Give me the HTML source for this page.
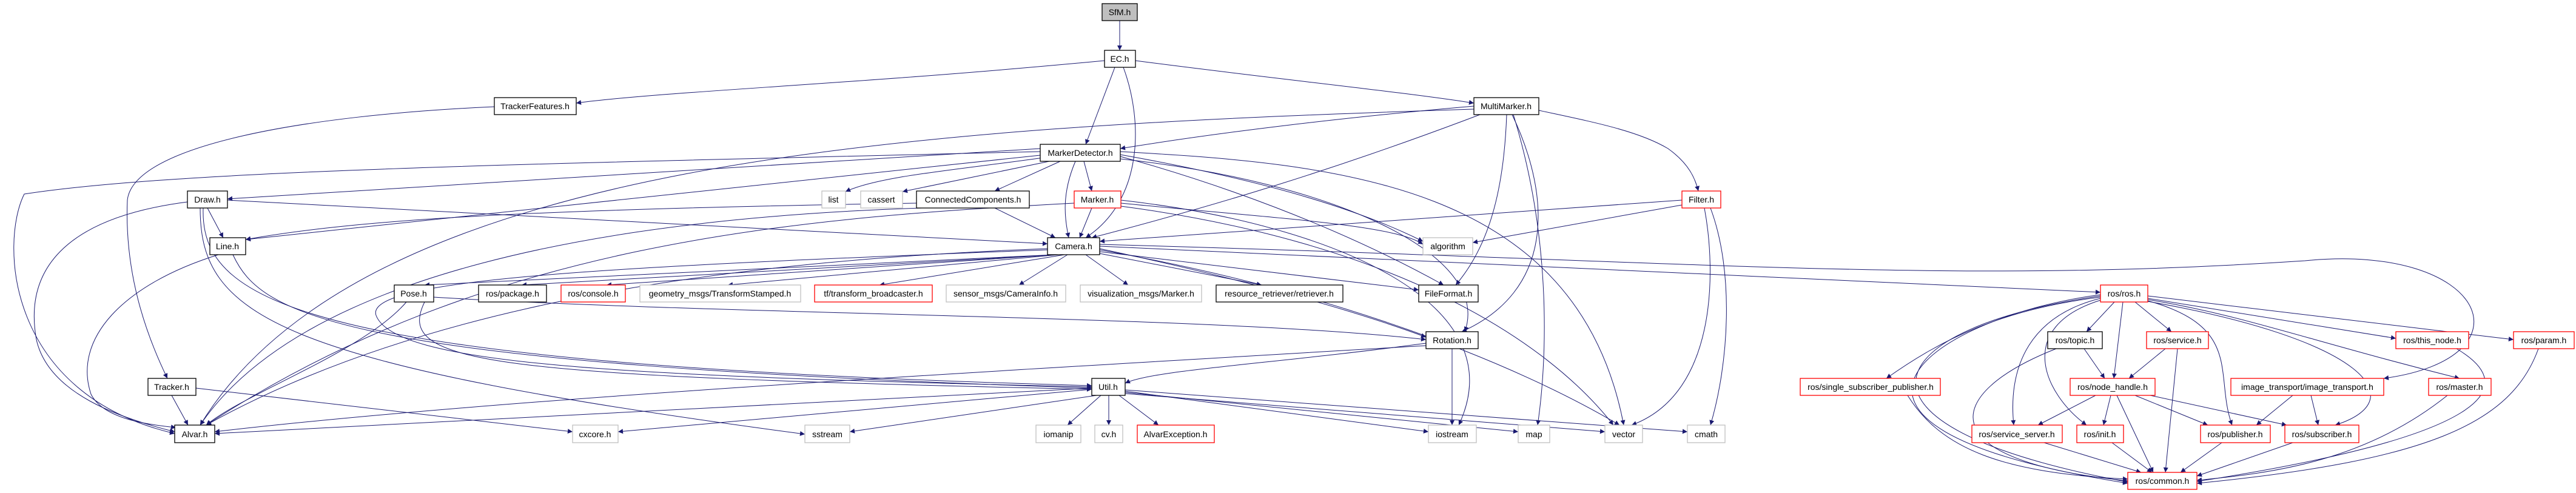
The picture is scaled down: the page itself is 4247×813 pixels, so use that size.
<!DOCTYPE html>
<html><head><meta charset="utf-8"><style>
html,body{margin:0;padding:0;background:#fff;}
svg{display:block;}
text{font-family:"Liberation Sans",sans-serif;font-size:14px;text-anchor:middle;fill:#000;}
.n{fill:#fff;stroke:#000;stroke-width:1.3;}
.r{fill:#fff;stroke:#ff0000;stroke-width:1.3;}
.g{fill:#fff;stroke:#bfbfbf;stroke-width:1.3;}
.e path{fill:none;stroke:#191970;stroke-width:1;marker-end:url(#a);}
</style></head><body>
<svg width="4247" height="813" viewBox="0 0 4247 813" xmlns="http://www.w3.org/2000/svg">
<defs><marker id="a" viewBox="0 0 10 10" refX="10" refY="5" markerWidth="10" markerHeight="8" markerUnits="userSpaceOnUse" orient="auto"><path d="M0,0 L10,5 L0,10 z" fill="#191970"/></marker></defs>
<g class="e">
<path d="M1846,34 L1846,83"/>
<path d="M1821,100 C1400,140 1100,150 950,170"/>
<path d="M1872,100 C2100,130 2300,150 2430,170"/>
<path d="M1838,111 L1790,238"/>
<path d="M1852,111 C1885,200 1885,330 1790,392"/>
<path d="M815,176 C500,190 220,240 210,330 C205,450 240,550 276,624"/>
<path d="M2430,175 C2200,195 2000,220 1847,245"/>
<path d="M2537,182 C2620,200 2700,215 2750,245 C2785,270 2795,295 2800,315"/>
<path d="M2440,189 C2200,280 2000,340 1800,392"/>
<path d="M2484,189 C2480,300 2460,400 2400,470"/>
<path d="M2493,189 C2560,330 2560,480 2410,547"/>
<path d="M2430,180 C1500,210 600,260 330,701"/>
<path d="M2495,189 C2560,400 2550,600 2535,701"/>
<path d="M1715,245 L375,328"/>
<path d="M1720,260 C1580,280 1450,290 1394,316"/>
<path d="M1730,266 L1488,316"/>
<path d="M1748,266 L1640,315"/>
<path d="M1787,266 L1800,315"/>
<path d="M1773,266 C1750,320 1755,360 1762,392"/>
<path d="M1715,256 L405,395"/>
<path d="M1715,250 C900,270 300,280 40,320 C0,400 10,650 288,715"/>
<path d="M1847,255 C2100,300 2250,350 2346,398"/>
<path d="M1847,250 C2200,270 2600,300 2677,701"/>
<path d="M1847,262 C2200,300 2460,420 2415,547"/>
<path d="M1847,258 C2000,300 2200,370 2380,470"/>
<path d="M342,343 L368,392"/>
<path d="M309,333 C100,360 40,450 60,560 C80,650 200,690 288,712"/>
<path d="M375,330 L1727,402"/>
<path d="M335,343 C330,500 500,600 1800,636"/>
<path d="M330,343 C330,520 450,600 1327,716"/>
<path d="M360,420 C200,470 120,560 150,650 C170,690 240,700 290,705"/>
<path d="M384,420 C430,520 560,600 1800,640"/>
<path d="M1640,343 L1740,392"/>
<path d="M1511,335 C900,345 600,360 405,395"/>
<path d="M1520,343 C1000,360 500,450 330,701"/>
<path d="M1800,343 L1780,392"/>
<path d="M1771,335 C1300,360 800,400 340,701"/>
<path d="M1848,335 C2100,360 2300,370 2346,403"/>
<path d="M1848,340 C2300,400 2550,560 2660,701"/>
<path d="M1848,330 C2200,370 2500,500 2405,701"/>
<path d="M2773,330 L1813,398"/>
<path d="M2773,338 L2428,400"/>
<path d="M2810,343 C2830,450 2830,650 2690,701"/>
<path d="M2820,343 C2860,450 2850,600 2820,701"/>
<path d="M1740,420 L700,470"/>
<path d="M1745,420 L860,470"/>
<path d="M1740,420 L1000,470"/>
<path d="M1745,420 L1200,470"/>
<path d="M1755,420 L1450,470"/>
<path d="M1760,420 L1680,470"/>
<path d="M1790,420 L1860,470"/>
<path d="M1813,418 L2080,470"/>
<path d="M1813,415 L2339,478"/>
<path d="M1813,406 L3463,482"/>
<path d="M1813,403 C2800,430 3200,470 3800,430 C4100,400 4180,590 3930,624"/>
<path d="M1727,410 C1200,430 700,500 340,701"/>
<path d="M1727,412 C1000,440 600,460 620,520 C650,600 1000,620 1800,638"/>
<path d="M1813,410 C2000,450 2200,500 2351,556"/>
<path d="M1813,412 C2200,480 2500,600 2670,701"/>
<path d="M670,498 C600,580 400,650 340,701"/>
<path d="M715,490 C1200,520 2000,520 2351,560"/>
<path d="M700,498 C650,600 800,620 1800,642"/>
<path d="M2394,575 L2394,701"/>
<path d="M2351,566 C2100,600 1900,610 1855,632"/>
<path d="M2351,570 C1500,620 800,660 354,712"/>
<path d="M283,652 L310,701"/>
<path d="M323,640 L944,712"/>
<path d="M1800,640 L354,715"/>
<path d="M1800,642 L1019,712"/>
<path d="M1808,652 L1401,712"/>
<path d="M1815,652 L1760,701"/>
<path d="M1828,652 L1828,701"/>
<path d="M1845,652 L1910,701"/>
<path d="M1855,645 L2355,712"/>
<path d="M1855,647 L2503,712"/>
<path d="M1855,649 L2646,712"/>
<path d="M1855,643 L2782,712"/>
<path d="M3486,498 L3440,547"/>
<path d="M3520,498 L3580,547"/>
<path d="M3500,498 L3485,624"/>
<path d="M3541,492 L3950,558"/>
<path d="M3541,488 L4144,560"/>
<path d="M3541,494 C3700,520 3800,560 4055,624"/>
<path d="M3463,490 C3300,510 3200,560 3110,624"/>
<path d="M3463,492 C3350,520 3310,600 3320,701"/>
<path d="M3463,495 C3320,540 3370,650 3440,701"/>
<path d="M3541,496 C3700,540 3650,620 3680,701"/>
<path d="M3541,497 C3900,560 3980,660 3850,701"/>
<path d="M3463,488 C3100,540 3000,700 3508,795"/>
<path d="M3463,486 C3200,520 2900,700 3508,797"/>
<path d="M3436,575 L3470,624"/>
<path d="M3390,575 C3200,650 3180,760 3508,793"/>
<path d="M3570,575 L3510,624"/>
<path d="M3590,575 L3570,779"/>
<path d="M3455,652 L3360,701"/>
<path d="M3480,652 L3468,701"/>
<path d="M3490,652 L3550,779"/>
<path d="M3520,652 L3640,701"/>
<path d="M3545,652 L3770,701"/>
<path d="M3780,652 L3720,701"/>
<path d="M3810,652 L3822,701"/>
<path d="M3370,730 L3530,779"/>
<path d="M3482,730 L3548,779"/>
<path d="M3663,730 L3595,779"/>
<path d="M3780,730 L3622,785"/>
<path d="M4035,652 C3900,760 3750,780 3622,792"/>
<path d="M4050,575 C4160,640 4100,720 3622,794"/>
<path d="M4185,575 C4140,700 4000,760 3622,797"/>
<path d="M3145,652 C3200,740 3300,780 3508,790"/>
</g>
<g>
<rect x="1817" y="6" width="58" height="28" style="fill:#bfbfbf;stroke:#000;stroke-width:1.3"/><text x="1846" y="25">SfM.h</text>
<rect class="n" x="1821" y="83" width="51" height="28"/><text x="1846" y="102">EC.h</text>
<rect class="n" x="815" y="161" width="135" height="28"/><text x="882" y="180">TrackerFeatures.h</text>
<rect class="n" x="2430" y="161" width="107" height="28"/><text x="2483" y="180">MultiMarker.h</text>
<rect class="n" x="1715" y="238" width="132" height="28"/><text x="1781" y="257">MarkerDetector.h</text>
<rect class="n" x="309" y="315" width="66" height="28"/><text x="342" y="334">Draw.h</text>
<rect class="g" x="1355" y="315" width="39" height="28"/><text x="1374" y="334">list</text>
<rect class="g" x="1419" y="315" width="69" height="28"/><text x="1453" y="334">cassert</text>
<rect class="n" x="1511" y="315" width="186" height="28"/><text x="1604" y="334">ConnectedComponents.h</text>
<rect class="r" x="1771" y="315" width="77" height="28"/><text x="1809" y="334">Marker.h</text>
<rect class="r" x="2773" y="315" width="64" height="28"/><text x="2805" y="334">Filter.h</text>
<rect class="n" x="346" y="392" width="59" height="28"/><text x="375" y="411">Line.h</text>
<rect class="n" x="1727" y="392" width="86" height="28"/><text x="1770" y="411">Camera.h</text>
<rect class="g" x="2346" y="392" width="82" height="28"/><text x="2387" y="411">algorithm</text>
<rect class="n" x="650" y="470" width="65" height="28"/><text x="682" y="489">Pose.h</text>
<rect class="n" x="789" y="470" width="112" height="28"/><text x="845" y="489">ros/package.h</text>
<rect class="r" x="925" y="470" width="106" height="28"/><text x="978" y="489">ros/console.h</text>
<rect class="g" x="1055" y="470" width="265" height="28"/><text x="1187" y="489">geometry_msgs/TransformStamped.h</text>
<rect class="r" x="1343" y="470" width="194" height="28"/><text x="1440" y="489">tf/transform_broadcaster.h</text>
<rect class="g" x="1560" y="470" width="197" height="28"/><text x="1658" y="489">sensor_msgs/CameraInfo.h</text>
<rect class="g" x="1781" y="470" width="200" height="28"/><text x="1881" y="489">visualization_msgs/Marker.h</text>
<rect class="n" x="2005" y="470" width="209" height="28"/><text x="2109" y="489">resource_retriever/retriever.h</text>
<rect class="n" x="2339" y="470" width="98" height="28"/><text x="2388" y="489">FileFormat.h</text>
<rect class="r" x="3463" y="470" width="78" height="28"/><text x="3502" y="489">ros/ros.h</text>
<rect class="n" x="2351" y="547" width="86" height="28"/><text x="2394" y="566">Rotation.h</text>
<rect class="n" x="3376" y="547" width="90" height="28"/><text x="3421" y="566">ros/topic.h</text>
<rect class="r" x="3539" y="547" width="102" height="28"/><text x="3590" y="566">ros/service.h</text>
<rect class="r" x="3950" y="547" width="120" height="28"/><text x="4010" y="566">ros/this_node.h</text>
<rect class="r" x="4144" y="547" width="100" height="28"/><text x="4194" y="566">ros/param.h</text>
<rect class="n" x="244" y="624" width="79" height="28"/><text x="283" y="643">Tracker.h</text>
<rect class="n" x="1800" y="624" width="55" height="28"/><text x="1827" y="643">Util.h</text>
<rect class="r" x="2968" y="624" width="231" height="28"/><text x="3084" y="643">ros/single_subscriber_publisher.h</text>
<rect class="r" x="3413" y="624" width="140" height="28"/><text x="3483" y="643">ros/node_handle.h</text>
<rect class="r" x="3678" y="624" width="252" height="28"/><text x="3804" y="643">image_transport/image_transport.h</text>
<rect class="r" x="4004" y="624" width="103" height="28"/><text x="4055" y="643">ros/master.h</text>
<rect class="n" x="288" y="701" width="66" height="29"/><text x="321" y="721">Alvar.h</text>
<rect class="g" x="944" y="701" width="75" height="29"/><text x="981" y="721">cxcore.h</text>
<rect class="g" x="1327" y="701" width="74" height="29"/><text x="1364" y="721">sstream</text>
<rect class="g" x="1708" y="701" width="74" height="29"/><text x="1745" y="721">iomanip</text>
<rect class="g" x="1805" y="701" width="46" height="29"/><text x="1828" y="721">cv.h</text>
<rect class="r" x="1875" y="701" width="127" height="29"/><text x="1938" y="721">AlvarException.h</text>
<rect class="g" x="2355" y="701" width="79" height="29"/><text x="2394" y="721">iostream</text>
<rect class="g" x="2503" y="701" width="52" height="29"/><text x="2529" y="721">map</text>
<rect class="g" x="2646" y="701" width="62" height="29"/><text x="2677" y="721">vector</text>
<rect class="g" x="2782" y="701" width="62" height="29"/><text x="2813" y="721">cmath</text>
<rect class="r" x="3251" y="701" width="149" height="29"/><text x="3325" y="721">ros/service_server.h</text>
<rect class="r" x="3424" y="701" width="77" height="29"/><text x="3462" y="721">ros/init.h</text>
<rect class="r" x="3628" y="701" width="115" height="29"/><text x="3685" y="721">ros/publisher.h</text>
<rect class="r" x="3767" y="701" width="122" height="29"/><text x="3828" y="721">ros/subscriber.h</text>
<rect class="r" x="3508" y="779" width="114" height="28"/><text x="3565" y="798">ros/common.h</text>
</g>
</svg>
</body></html>
